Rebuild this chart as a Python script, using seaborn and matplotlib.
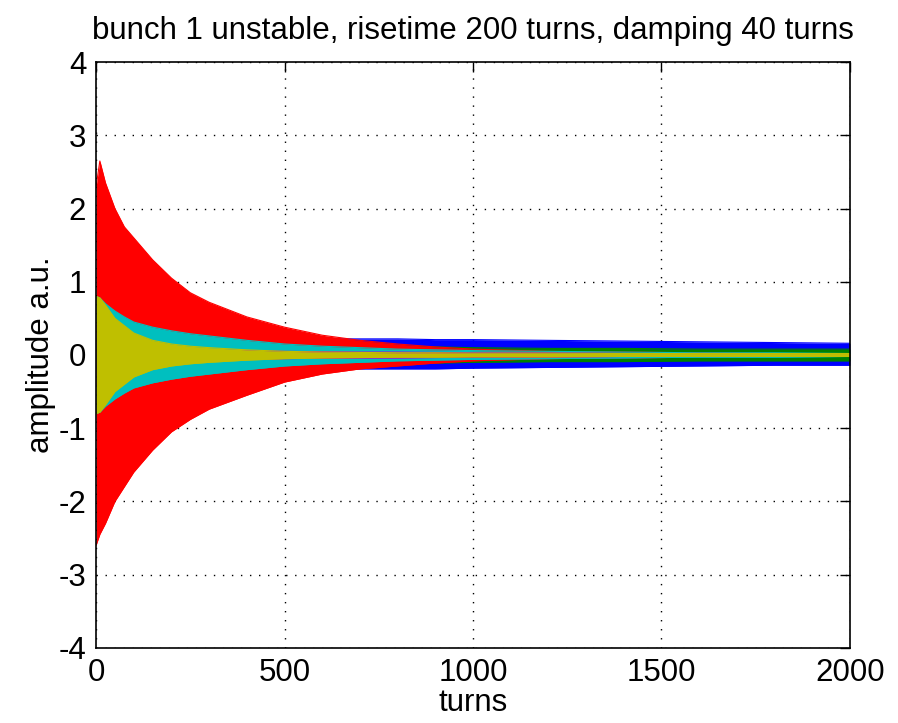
import numpy as np
import pandas as pd
import matplotlib
matplotlib.use("Agg")
import matplotlib.pyplot as plt
import seaborn as sns

# envelope of each bunch oscillation (amplitude a.u.)
turns = [0, 10, 25, 50, 75, 100, 150, 200, 250, 300, 400, 500, 600, 700,
         800, 900, 1000, 1200, 1400, 1600, 1800, 2000]

blue_hi = [0.22, 0.22, 0.22, 0.22, 0.22, 0.22, 0.22, 0.22, 0.22, 0.22, 0.22, 0.22, 0.22, 0.22,
           0.22, 0.21, 0.21, 0.2, 0.19, 0.18, 0.17, 0.16]
blue_lo = [-0.19, -0.19, -0.19, -0.19, -0.19, -0.19, -0.19, -0.19, -0.19, -0.19, -0.19, -0.19, -0.19, -0.19,
           -0.19, -0.19, -0.18, -0.17, -0.16, -0.15, -0.14, -0.14]
green_amp = [0.15, 0.15, 0.15, 0.15, 0.15, 0.15, 0.15, 0.15, 0.15, 0.15, 0.14, 0.13, 0.13, 0.12,
             0.12, 0.11, 0.1, 0.09, 0.09, 0.08, 0.08, 0.08]
red_hi = [2.3, 2.65, 2.35, 2.0, 1.75, 1.6, 1.3, 1.05, 0.85, 0.72, 0.52, 0.38, 0.27, 0.2,
          0.15, 0.11, 0.08, 0.05, 0.04, 0.03, 0.02, 0.01]
red_lo = [-2.6, -2.45, -2.3, -2.0, -1.8, -1.6, -1.3, -1.05, -0.88, -0.74, -0.55, -0.37, -0.26, -0.19,
          -0.15, -0.11, -0.08, -0.05, -0.04, -0.03, -0.02, -0.01]
cyan_amp = [0.8, 0.78, 0.7, 0.6, 0.52, 0.45, 0.38, 0.33, 0.29, 0.26, 0.2, 0.15, 0.12, 0.1,
            0.08, 0.07, 0.06, 0.05, 0.04, 0.03, 0.03, 0.02]
magenta_amp = [0.4, 0.4, 0.35, 0.28, 0.22, 0.17, 0.12, 0.09, 0.08, 0.07, 0.06, 0.05, 0.045, 0.04,
               0.04, 0.035, 0.03, 0.03, 0.02, 0.015, 0.01, 0.01]
yellow_amp = [0.8, 0.78, 0.68, 0.5, 0.4, 0.3, 0.2, 0.15, 0.12, 0.1, 0.07, 0.05, 0.04, 0.035,
              0.03, 0.03, 0.025, 0.025, 0.02, 0.02, 0.02, 0.02]

title = "bunch 1 unstable, risetime 200 turns, damping 40 turns"

sns.set_style("white")
plt.rcParams["font.family"] = ["Liberation Sans", "DejaVu Sans"]
plt.rcParams["axes.unicode_minus"] = False
plt.rcParams["text.color"] = "black"
plt.rcParams["axes.labelcolor"] = "black"

fig = plt.figure(figsize=(8.98, 7.23), dpi=100)
ax = fig.add_axes([0.107, 0.104, 0.8395, 0.81])

# matlab colour order, later series drawn on top
bands = [
    ("b", blue_hi, blue_lo, (0, 0, 1)),
    ("g", green_amp, [-v for v in green_amp], (0, 0.5, 0)),
    ("r", red_hi, red_lo, (1, 0, 0)),
    ("c", cyan_amp, [-v for v in cyan_amp], (0, 0.75, 0.75)),
    ("m", magenta_amp, [-v for v in magenta_amp], (0.75, 0, 0.75)),
    ("y", yellow_amp, [-v for v in yellow_amp], (0.75, 0.75, 0)),
]

for name, hi, lo, col in bands:
    df = pd.DataFrame({"turns": turns + turns,
                       "amp": hi + lo,
                       "edge": ["hi"] * len(turns) + ["lo"] * len(turns)})
    ax.fill_between(turns, lo, hi, color=col, lw=0, zorder=2)
    sns.lineplot(data=df, x="turns", y="amp", units="edge", estimator=None,
                 color=col, lw=0.8, ax=ax, legend=False, zorder=2)

ax.set_xlim(0, 2000)
ax.set_ylim(-4, 4)
ax.set_xticks([0, 500, 1000, 1500, 2000])
ax.set_yticks(range(-4, 5))
ax.set_axisbelow(True)
ax.grid(True, color="black", linestyle=(0, (1, 5.5)), lw=1.0)
ax.tick_params(direction="in", length=7, width=1, labelsize=22.5, top=True, right=True,
               colors="black", pad=7)
for s in ax.spines.values():
    s.set_visible(True)
    s.set_color("black")
    s.set_linewidth(1.2)
    s.set_zorder(5)

ax.set_xlabel("turns", fontsize=22.5, labelpad=0, color="black")
ax.set_ylabel("amplitude a.u.", fontsize=22.5, labelpad=2, color="black")
ax.set_title(title, fontsize=22.5, pad=17, color="black")

fig.savefig("out.png", dpi=100)
